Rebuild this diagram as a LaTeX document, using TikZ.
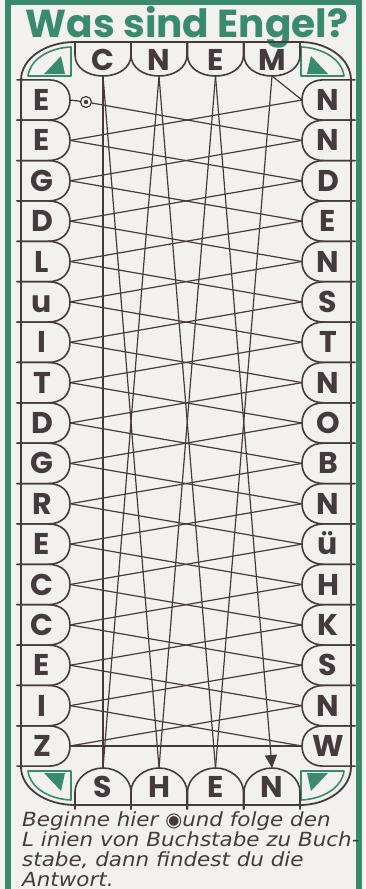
\documentclass[tikz,border=0pt]{standalone}
\usepackage{fontspec}
\usetikzlibrary{arrows.meta}
\newfontfamily\pop{Poppins}
\newfontfamily\hand{DejaVu Sans}[FakeStretch=1.1]
\newfontfamily\dvs{DejaVu Sans}
\definecolor{grn}{HTML}{3A8A70}
\definecolor{ink}{HTML}{453B3F}
\definecolor{paper}{HTML}{F2F1EF}
\begin{document}
\begin{tikzpicture}[x=1pt,y=-1pt,line join=round,line cap=round,
  frame/.style={draw=ink,line width=1.8pt},
  bub/.style={draw=ink,line width=1.6pt},
  link/.style={draw=ink,line width=1.2pt},
  letter/.style={font=\pop\bfseries\fontsize{30}{30}\selectfont,text=ink,inner sep=0pt,anchor=base},
  gline/.style={draw=grn,line width=1.6pt},
  gfill/.style={fill=grn},
  note/.style={font=\hand\itshape\fontsize{19.5}{19.5}\selectfont,text=ink,inner sep=0pt,anchor=base west}]
\useasboundingbox (0,0) rectangle (365,889);
\clip (0,0) rectangle (365,889);
\fill[paper] (0,0) rectangle (365,889);
\fill[grn] (5,0) rectangle (11,889);
\fill[grn] (356,0) rectangle (362,889);
\fill[grn] (5,0) rectangle (362,5);
% title
\node[font=\pop\bfseries\fontsize{39}{39}\selectfont,text=grn,inner sep=0pt,anchor=base] (title) at (187,37) {Was sind Engel?};
% frame
\draw[frame] (21,767) -- (21,80) .. controls (21,59) and (45,42) .. (75,42) -- (300,42)
  .. controls (328,42) and (351,59) .. (351,80) -- (351,767)
  .. controls (351,788) and (328,805) .. (300,805) -- (75,805)
  .. controls (45,805) and (21,788) .. (21,767);
% green corners
\draw[gline] (28,76) .. controls (30,60) and (48,48) .. (71,47) -- (71,76) -- cycle;
\fill[gfill] (61,56) -- (44,74) -- (65,74) -- cycle;
\draw[gline] (344,76) .. controls (342,60) and (324,48) .. (301,47) -- (301,76) -- cycle;
\fill[gfill] (311,56) -- (328,74) -- (307,74) -- cycle;
\draw[gline] (28,771) .. controls (30,787) and (48,799) .. (71,800) -- (71,771) -- cycle;
\fill[gfill] (61,791) -- (44,773) -- (65,773) -- cycle;
\draw[gline] (344,771) .. controls (342,787) and (324,799) .. (301,800) -- (301,771) -- cycle;
\fill[gfill] (311,791) -- (328,773) -- (307,773) -- cycle;
% side rows
\foreach \l/\r [count=\i] in {E/N,E/N,G/D,D/E,L/N,u/S,I/T,T/N,D/O,G/B,R/N,E/ü,C/H,C/K,E/S,I/N,Z/W} {
  \pgfmathsetmacro\yc{100+40.375*(\i-1)}
  \draw[bub] (17,\yc-20.19) -- (48,\yc-20.19) .. controls (62,\yc-20.19) and (70,\yc-12) .. (70,\yc)
     .. controls (70,\yc+12) and (62,\yc+20.19) .. (48,\yc+20.19) -- (17,\yc+20.19);
  \draw[bub] (355,\yc-20.19) -- (324,\yc-20.19) .. controls (310,\yc-20.19) and (302,\yc-12) .. (302,\yc)
     .. controls (302,\yc+12) and (310,\yc+20.19) .. (324,\yc+20.19) -- (355,\yc+20.19);
  \node[letter] (L\i) at (42,\yc+10.5) {\l};
  \node[letter] (R\i) at (328,\yc+10.5) {\r};
  \coordinate (lt\i) at (70,\yc);
  \coordinate (rt\i) at (302,\yc);
}
% top row
\foreach \c/\t [count=\j] in {103/C,159/N,215.5/E,272/M} {
  \draw[bub] (\c-28,42) -- (\c-28,55) .. controls (\c-28,68) and (\c-15,76) .. (\c,76)
     .. controls (\c+15,76) and (\c+28,68) .. (\c+28,55) -- (\c+28,42);
  \node[letter] (T\j) at (\c,70) {\t};
  \coordinate (tt\j) at (\c,76);
}
% bottom row
\foreach \c/\t [count=\j] in {103/S,159/H,215.5/E,272/N} {
  \draw[bub] (\c-28,809) -- (\c-28,792) .. controls (\c-28,779) and (\c-15,768) .. (\c,768)
     .. controls (\c+15,768) and (\c+28,779) .. (\c+28,792) -- (\c+28,809);
  \node[letter] (B\j) at (\c,797) {\t};
  \coordinate (bt\j) at (\c,768);
}
% start mark
\node[circle,draw=ink,line width=1.2pt,minimum size=11pt,inner sep=0pt] (start) at (86,102) {};
\fill[ink] (start.center) circle (2.2pt);
% connectors
\draw[link] (lt1) -- (start);
\draw[link] (start) -- (rt2);
\draw[link] (rt1) -- (lt2);
\foreach \k in {2,...,16} {
  \pgfmathtruncatemacro\n{\k+1}
  \draw[link] (lt\k) -- (rt\n);
  \draw[link] (rt\k) -- (lt\n);
}
\draw[link] (lt17) -- (rt17);
\draw[link] (rt1) -- (tt4);
\draw[link] (tt4) -- (bt3);
\draw[link] (bt3) -- (tt2);
\draw[link] (tt2) -- (bt1);
\draw[link] (bt1) -- (tt1);
\draw[link] (tt1) -- (bt2);
\draw[link] (bt2) -- (tt3);
\draw[link,-{Triangle[length=13pt,width=12pt]}] (tt3) -- (bt4);
% note
\node[note] (n1) at (22,826) {Beginne hier {\dvs ◉}und folge den};
\node[note] (n2) at (22,846) {L inien von Buchstabe zu Buch-};
\node[note] (n3) at (22,866) {stabe, dann findest du die};
\node[note] (n4) at (22,886) {Antwort.};
\end{tikzpicture}
\end{document}
